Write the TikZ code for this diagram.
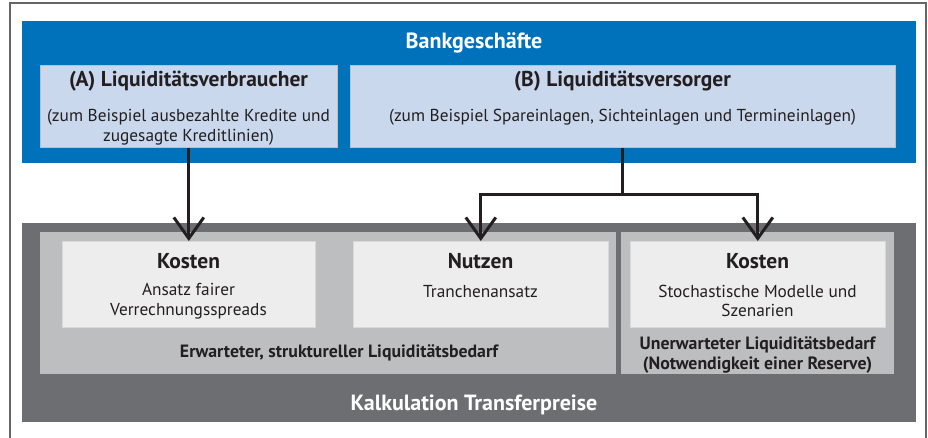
\documentclass[tikz,border=0pt]{standalone}
\usepackage{fontspec}
\setmainfont{PT Sans}
\usetikzlibrary{arrows.meta, positioning}
\definecolor{bankblue}{HTML}{0072BC}
\definecolor{paleblue}{HTML}{CAD8EE}
\definecolor{darkgrey}{HTML}{6D6E71}
\definecolor{midgrey}{HTML}{BCBEC0}
\definecolor{lightgrey}{HTML}{EDEDEE}
\definecolor{ink}{HTML}{231F20}
\tikzset{
    panel/.style={rectangle, anchor=north west, inner sep=0pt},
    bluepanel/.style={panel, fill=bankblue},
    palebox/.style={panel, fill=paleblue, draw=black!25, line width=0.8pt},
    darkpanel/.style={panel, fill=darkgrey},
    midpanel/.style={panel, fill=midgrey},
    lightbox/.style={panel, fill=lightgrey, draw=black!15, line width=0.6pt},
    headtext/.style={text=white, font=\fontsize{22}{24}\selectfont\bfseries},
    titletext/.style={text=ink, font=\fontsize{21.5}{24}\selectfont\bfseries},
    subtext/.style={text=ink, align=center, font=\fontsize{17.3}{19.5}\selectfont},
    notetext/.style={text=ink, align=center, font=\fontsize{17.8}{19.5}\selectfont\bfseries},
    link/.style={draw=ink, line width=3pt},
    flow/.style={link, -{Straight Barb[length=21pt, width=30pt]}},
    frame/.style={draw=black!60, line width=1.4pt},
}
\begin{document}
\begin{tikzpicture}[x=1pt, y=-1pt]
    \useasboundingbox (0,0) rectangle (928,437);
    \draw[frame] (10,440) -- (10,3) -- (926,3) -- (926,440);

    % Bankgeschaefte
    \node[bluepanel, minimum width=894pt, minimum height=142pt] (bank) at (22,21) {};
    \node[headtext] (banktitle) at (474,43) {Bankgeschäfte};
    \node[palebox, minimum width=297pt, minimum height=82pt] (verbr) at (40,65) {};
    \node[palebox, minimum width=545pt, minimum height=82pt] (vers) at (350,65) {};
    \node[titletext] (verbrtitle) at (188.5,81) {(A) Liquiditätsverbraucher};
    \node[subtext] (verbrtext) at (188.5,127) {(zum Beispiel ausbezahlte Kredite und\\zugesagte Kreditlinien)};
    \node[titletext] (verstitle) at (622.5,81) {(B) Liquiditätsversorger};
    \node[subtext] (verstext) at (622.5,117) {(zum Beispiel Spareinlagen, Sichteinlagen und Termineinlagen)};

    % Kalkulation
    \node[darkpanel, minimum width=894pt, minimum height=199pt] (kalk) at (22,223) {};
    \node[midpanel, minimum width=576pt, minimum height=142pt] (erwartet) at (40,232) {};
    \node[midpanel, minimum width=273pt, minimum height=142pt] (unerwartet) at (621,232) {};
    \node[lightbox, minimum width=253pt, minimum height=86pt] (kostenA) at (62,241) {};
    \node[lightbox, minimum width=255pt, minimum height=86pt] (nutzen) at (353,241) {};
    \node[lightbox, minimum width=255pt, minimum height=86pt] (kostenB) at (630,241) {};

    \node[titletext] (kostenAtitle) at (188.5,261) {Kosten};
    \node[subtext] (kostenAtext) at (188.5,301) {Ansatz fairer\\Verrechnungsspreads};
    \node[titletext] (nutzentitle) at (480.5,261) {Nutzen};
    \node[subtext] (nutzentext) at (480.5,292) {Tranchenansatz};
    \node[titletext] (kostenBtitle) at (757.5,261) {Kosten};
    \node[subtext] (kostenBtext) at (757.5,301) {Stochastische Modelle und\\Szenarien};
    \node[notetext] (erwartettext) at (339,353) {Erwarteter, struktureller Liquiditätsbedarf};
    \node[notetext] (unerwartettext) at (757.5,355) {Unerwarteter Liquiditätsbedarf\\(Notwendigkeit einer Reserve)};
    \node[headtext] (kalktitle) at (474,405) {Kalkulation Transferpreise};

    % Pfeile
    \coordinate (split) at (vers.south |- 0,194);
    \draw[flow] (verbr.south -| kostenA.north) -- (kostenA.north);
    \draw[link] (vers.south) -- (split);
    \draw[flow] (split) -| (nutzen.north);
    \draw[flow] (split) -| (kostenB.north);
\end{tikzpicture}
\end{document}
